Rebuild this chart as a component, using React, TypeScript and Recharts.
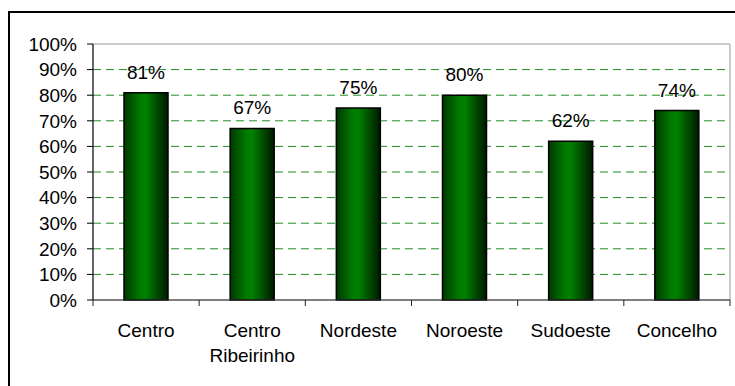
import React from "react";
import { BarChart, Bar, XAxis, YAxis, CartesianGrid, LabelList, ReferenceArea } from "recharts";

const categories = ["Centro", "Centro Ribeirinho", "Nordeste", "Noroeste", "Sudoeste", "Concelho"];
const values = [81, 67, 75, 80, 62, 74];
const yTicks = [0, 10, 20, 30, 40, 50, 60, 70, 80, 90, 100];

const data = categories.map((name, i) => ({ name, value: values[i] }));

const FONT = "'Liberation Sans', Arial, Helvetica, sans-serif";

const XTick = (props: any) => {
  const { x, y, payload, index } = props;
  const off = payload && payload.offset != null ? payload.offset : 0;
  const words: string[] = String(payload.value).split(" ");
  return (
    <g>
      <line x1={x - off} x2={x - off} y1={y} y2={y + 6} stroke="#222" strokeWidth={1} />
      {index === categories.length - 1 && (
        <line x1={x + off} x2={x + off} y1={y} y2={y + 6} stroke="#222" strokeWidth={1} />
      )}
      <text x={x} y={y + 36.5} textAnchor="middle" fontFamily={FONT} fontSize={19} fill="#000">
        {words.map((w, i) => (
          <tspan key={i} x={x} dy={i === 0 ? 0 : 25}>
            {w}
          </tspan>
        ))}
      </text>
    </g>
  );
};

export default function App() {
  return (
    <div style={{ position: "absolute", left: 0, top: 0, width: 735, height: 386, overflow: "hidden", background: "#fff" }}>
      <div
        style={{
          position: "absolute",
          left: 7.5,
          top: 11,
          width: 760,
          height: 400,
          border: "2px solid #000",
          boxSizing: "border-box",
        }}
      />
      <div style={{ position: "absolute", left: 0, top: 0 }}>
        <BarChart
          width={735}
          height={386}
          data={data}
          margin={{ top: 44, right: 5, bottom: 0, left: 0 }}
          barSize={44}
        >
          <defs>
            <linearGradient id="barGrad" x1="0" y1="0" x2="1" y2="0">
              <stop offset="0%" stopColor="#003800" />
              <stop offset="38%" stopColor="#007c00" />
              <stop offset="50%" stopColor="#008000" />
              <stop offset="100%" stopColor="#001800" />
            </linearGradient>
          </defs>
          <CartesianGrid
            vertical={false}
            stroke="#1f8f1f"
            strokeDasharray="8 5"
            horizontalValues={yTicks.filter((t) => t > 0 && t < 100)}
          />
          <ReferenceArea y1={0} y2={100} stroke="#999" strokeWidth={1} fill="none" fillOpacity={0} ifOverflow="visible" />
          <XAxis
            dataKey="name"
            axisLine={{ stroke: "#333", strokeWidth: 1 }}
            tickLine={false}
            tickSize={0}
            tickMargin={0}
            interval={0}
            height={86}
            tick={<XTick />}
          />
          <YAxis
            domain={[0, 100]}
            ticks={yTicks}
            interval={0}
            width={93}
            axisLine={{ stroke: "#000", strokeWidth: 1 }}
            tickLine={{ stroke: "#000", strokeWidth: 1 }}
            tickSize={6}
            tickMargin={10}
            tickFormatter={(v: number) => `${v}%`}
            tick={{ fontSize: 19, fill: "#000", fontFamily: FONT }}
          />
          <Bar dataKey="value" fill="url(#barGrad)" stroke="#000" strokeWidth={1.5} isAnimationActive={false}>
            <LabelList
              dataKey="value"
              position="top"
              offset={14}
              formatter={(v: any) => `${v}%`}
              style={{ fontSize: 19, fill: "#000", fontFamily: FONT }}
            />
          </Bar>
        </BarChart>
      </div>
    </div>
  );
}
